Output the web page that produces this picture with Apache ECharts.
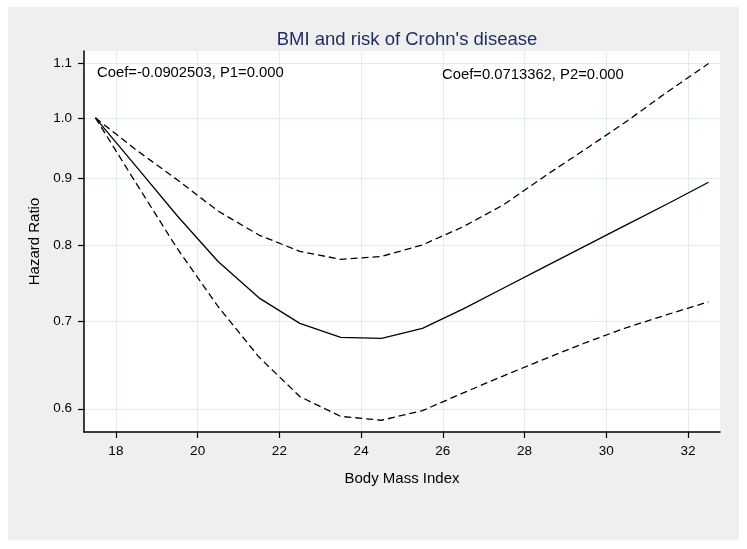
<!DOCTYPE html>
<html>
<head>
<meta charset="utf-8">
<script src="https://cdn.jsdelivr.net/npm/echarts@6/dist/echarts.min.js"></script>
<style>
  html, body { margin: 0; padding: 0; background: #ffffff; }
  #bg { position: absolute; left: 8px; top: 7px; width: 731px; height: 533px; background: #efefef; }
  #chart { position: absolute; left: 0; top: 0; width: 747px; height: 549px; }
</style>
</head>
<body>
<div id="bg"></div>
<div id="chart"></div>
<script>
// ---- data ----
const bmi   = [17.5, 18.5, 19.5, 20.5, 21.5, 22.5, 23.5, 24.5, 25.5, 26.5, 27.5, 28.5, 29.5, 30.5, 31.5, 32.5];
const hr    = [1.000, 0.918, 0.842, 0.777, 0.729, 0.697, 0.680, 0.679, 0.691, 0.715, 0.742, 0.770, 0.799, 0.829, 0.860, 0.893];
const lower = [1.000, 0.891, 0.795, 0.718, 0.657, 0.613, 0.592, 0.588, 0.598, 0.617, 0.636, 0.655, 0.674, 0.692, 0.708, 0.724];
const upper = [1.000, 0.945, 0.897, 0.849, 0.814, 0.791, 0.780, 0.784, 0.800, 0.826, 0.859, 0.903, 0.947, 0.994, 1.047, 1.100];
const xTicks = [18, 20, 22, 24, 26, 28, 30, 32];
const yTicks = [0.6, 0.7, 0.8, 0.9, 1.0, 1.1];
const titleText = "BMI and risk of Crohn's disease";
const xName = 'Body Mass Index';
const yName = 'Hazard Ratio';
const note1 = 'Coef=-0.0902503, P1=0.000';
const note2 = 'Coef=0.0713362, P2=0.000';

const FONT = '"Liberation Sans", Arial, sans-serif';
const toPts = (vals) => bmi.map((x, i) => [x, Math.log(vals[i])]);
const gridColor = '#e0ecef';

const chart = echarts.init(document.getElementById('chart'), null, { renderer: 'canvas' });
chart.setOption({
  animation: false,
  backgroundColor: 'transparent',
  title: {
    text: titleText,
    left: 402, top: 25, textAlign: 'center',
    textStyle: { fontFamily: FONT, fontSize: 18.5, fontWeight: 'normal', color: '#1e3060' }
  },
  grid: {
    left: 84, top: 51, width: 636, height: 381,
    show: true, backgroundColor: '#ffffff', borderWidth: 0
  },
  xAxis: {
    type: 'value', min: 17.22, max: 32.78,
    name: xName, nameLocation: 'middle', nameGap: 39,
    nameTextStyle: { fontFamily: FONT, fontSize: 15, color: '#000' },
    axisLine: { onZero: false, lineStyle: { color: '#000', width: 1.5 } },
    axisTick: { show: true, inside: false, length: 6, customValues: xTicks, lineStyle: { color: '#000', width: 1.2 } },
    axisLabel: { customValues: xTicks, margin: 12, fontFamily: FONT, fontSize: 13.5, color: '#000' },
    splitLine: { show: true, lineStyle: { color: gridColor, width: 1 } }
  },
  yAxis: {
    type: 'value', min: Math.log(0.576), max: Math.log(1.1245),
    name: yName, nameLocation: 'middle', nameGap: 39,
    nameTextStyle: { fontFamily: FONT, fontSize: 15, color: '#000' },
    axisLine: { show: true, onZero: false, lineStyle: { color: '#000', width: 1.5 } },
    axisTick: { show: true, inside: false, length: 6, customValues: yTicks.map(Math.log), lineStyle: { color: '#000', width: 1.2 } },
    axisLabel: {
      customValues: yTicks.map(Math.log), margin: 12,
      fontFamily: FONT, fontSize: 13.5, color: '#000',
      formatter: (v) => Math.exp(v).toFixed(1)
    },
    splitLine: { show: true, lineStyle: { color: gridColor, width: 1 } }
  },
  graphic: [
    { type: 'text', left: 97, top: 65, z: 100, style: { text: note1, fill: '#000', font: '14.8px ' + FONT } },
    { type: 'text', left: 442, top: 67, z: 100, style: { text: note2, fill: '#000', font: '14.8px ' + FONT } }
  ],
  series: [
    { name: 'upper', type: 'line', data: toPts(upper), showSymbol: false, symbol: 'none',
      lineStyle: { color: '#000', width: 1.3, type: [7, 4] } },
    { name: 'hr', type: 'line', data: toPts(hr), showSymbol: false, symbol: 'none',
      lineStyle: { color: '#000', width: 1.3, type: 'solid' } },
    { name: 'lower', type: 'line', data: toPts(lower), showSymbol: false, symbol: 'none',
      lineStyle: { color: '#000', width: 1.3, type: [7, 4] } }
  ]
});
</script>
</body>
</html>
